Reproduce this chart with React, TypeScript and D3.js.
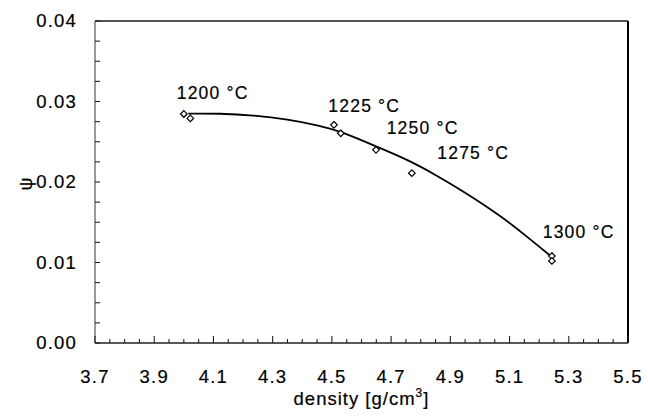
import React from "react";
import * as d3 from "d3";

// measured points (density, psi)
const pointDensity = [4.0, 4.022, 4.507, 4.53, 4.649, 4.77, 5.243, 5.243];
const pointPsi = [0.02845, 0.0279, 0.0271, 0.02605, 0.024, 0.0211, 0.0108, 0.0102];

// fitted curve
const curveDensity = [4.015, 4.12, 4.235, 4.35, 4.46, 4.53, 4.65, 4.76, 4.85, 4.955, 5.07, 5.18, 5.242];
const curvePsi = [0.0285, 0.02852, 0.0283, 0.0278, 0.027, 0.0263, 0.0244, 0.0227, 0.0209, 0.0186, 0.0158, 0.0126, 0.0107];

// temperature annotations
const labelText = ["1200 °C", "1225 °C", "1250 °C", "1275 °C", "1300 °C"];
const labelDensity = [3.976, 4.488, 4.685, 4.856, 5.212];
const labelPsi = [0.0303, 0.02873, 0.02596, 0.02282, 0.013];

const xTicks = [3.7, 3.9, 4.1, 4.3, 4.5, 4.7, 4.9, 5.1, 5.3, 5.5];
const yTicks = [0.0, 0.01, 0.02, 0.03, 0.04];

const W = 648;
const H = 416;
const left = 95;
const right = 628;
const top = 21;
const bottom = 343;
const FONT = "'Liberation Sans', Arial, Helvetica, sans-serif";

export default function App() {
  const x = d3.scaleLinear().domain([3.7, 5.5]).range([left, right]);
  const y = d3.scaleLinear().domain([0, 0.04]).range([bottom, top]);

  const xMinor = d3.range(0, 37).map((i) => 3.7 + i * 0.05);
  const yMinor = d3.range(0, 17).map((i) => i * 0.0025);

  const line = d3
    .line<[number, number]>()
    .x((d) => x(d[0]))
    .y((d) => y(d[1]))
    .curve(d3.curveBasis);
  const curveData: [number, number][] = curveDensity.map((d, i) => [d, curvePsi[i]]);

  const isMajorX = (v: number) => xTicks.some((t) => Math.abs(t - v) < 1e-6);

  const diamond = (cx: number, cy: number, r: number) =>
    `M${cx},${cy - r}L${cx + r},${cy}L${cx},${cy + r}L${cx - r},${cy}Z`;

  const textStyle = { stroke: "#000", strokeWidth: 0.2 };

  return (
    <svg
      width={W}
      height={H}
      style={{ position: "absolute", left: 0, top: 0, background: "#fff" }}
    >
      {/* frame */}
      <line x1={left} y1={top} x2={right} y2={top} stroke="#555" strokeWidth={2} />
      <line x1={right} y1={top} x2={right} y2={bottom} stroke="#000" strokeWidth={2} />
      <line x1={left} y1={top} x2={left} y2={bottom} stroke="#555" strokeWidth={1.2} />
      <line x1={left} y1={bottom} x2={right} y2={bottom} stroke="#222" strokeWidth={1.3} />

      {/* x ticks */}
      {xMinor.map((v, i) => {
        const px = x(v);
        const len = isMajorX(v) ? 7 : 4;
        return (
          <line key={"xt" + i} x1={px} x2={px} y1={bottom} y2={bottom - len} stroke="#222" strokeWidth={1.1} />
        );
      })}
      {/* y ticks */}
      {yMinor.map((v, i) => {
        const py = y(v);
        return <line key={"yt" + i} x1={left} x2={left + 5} y1={py} y2={py} stroke="#222" strokeWidth={1.1} />;
      })}

      {/* x tick labels */}
      {xTicks.map((t) => (
        <text
          key={"xl" + t}
          x={x(t)}
          y={383}
          textAnchor="middle"
          fontFamily={FONT}
          fontSize={18.5}
          letterSpacing={1.2}
          fill="#000"
          style={textStyle}
        >
          {t.toFixed(1)}
        </text>
      ))}
      {/* y tick labels */}
      {yTicks.map((t) => (
        <text
          key={"yl" + t}
          x={77}
          y={y(t)}
          dy="0.35em"
          textAnchor="end"
          fontFamily={FONT}
          fontSize={18.5}
          letterSpacing={1.2}
          fill="#000"
          style={textStyle}
        >
          {t.toFixed(2)}
        </text>
      ))}

      {/* axis titles */}
      <text
        x={(left + right) / 2}
        y={405}
        textAnchor="middle"
        fontFamily={FONT}
        fontSize={18.5}
        letterSpacing={1}
        fill="#000"
        style={textStyle}
      >
        density [g/cm
        <tspan fontSize={12} dy={-8}>3</tspan>
        <tspan dy={8}>]</tspan>
      </text>
      <text
        transform={`translate(26,184) rotate(-90)`}
        textAnchor="middle"
        dy="0.35em"
        fontFamily={FONT}
        fontSize={18}
        fill="#000"
        style={textStyle}
      >
        ψ
      </text>

      {/* fitted curve */}
      <path d={line(curveData) || ""} fill="none" stroke="#000" strokeWidth={1.8} />

      {/* data points */}
      {pointDensity.map((d, i) => (
        <path
          key={"p" + i}
          d={diamond(x(d), y(pointPsi[i]), 3.3)}
          fill="#fff"
          stroke="#000"
          strokeWidth={1.2}
        />
      ))}

      {/* temperature labels */}
      {labelText.map((t, i) => (
        <text
          key={"lb" + i}
          x={x(labelDensity[i])}
          y={y(labelPsi[i])}
          fontFamily={FONT}
          fontSize={17.5}
          letterSpacing={1.2}
          fill="#000"
          style={textStyle}
        >
          {t}
        </text>
      ))}
    </svg>
  );
}
